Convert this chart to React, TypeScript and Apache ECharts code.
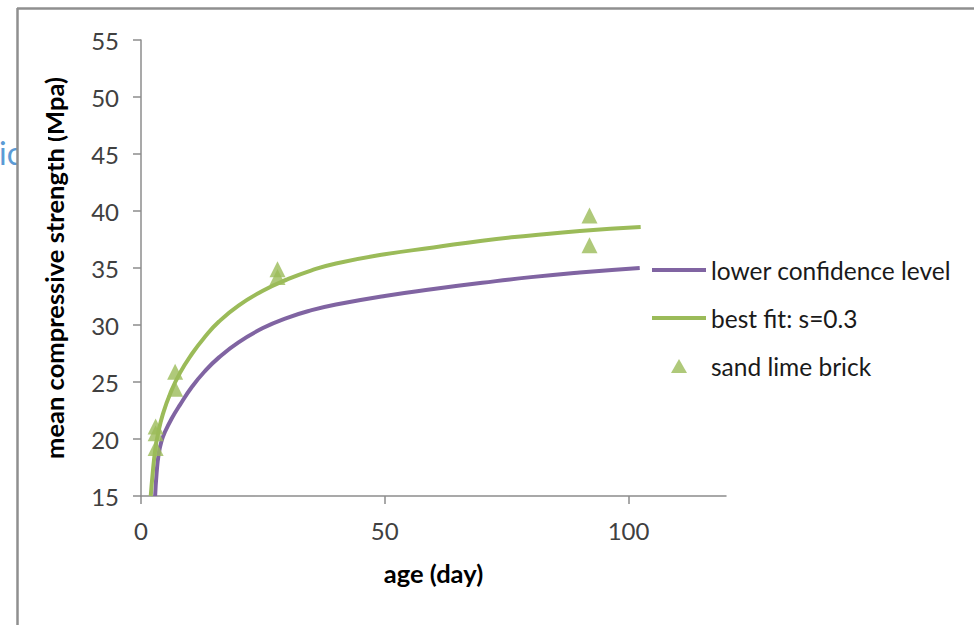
import React, { useEffect, useRef } from "react";
import * as echarts from "echarts";

// x: age (day), y: mean compressive strength (Mpa)
const lowerConfidence: [number, number][] = [
  [2.9, 15], [3.2, 17], [3.6, 18.6], [4.2, 19.8], [5, 20.7], [6.3, 21.8],
  [8, 23.0], [10.5, 24.6], [13, 25.9], [16, 27.16], [20, 28.48], [25, 29.73],
  [30, 30.63], [35, 31.3], [40, 31.8], [50, 32.55], [60, 33.15], [70, 33.7],
  [80, 34.2], [90, 34.6], [102.3, 35.0],
];
const bestFit: [number, number][] = [
  [2.0, 15], [2.4, 17], [2.9, 19], [3.5, 20.5], [4.5, 22.2], [6, 24.0],
  [8, 25.8], [10.5, 27.5], [13, 28.9], [16, 30.3], [20, 31.7], [25, 33.0],
  [30, 34.0], [35, 34.8], [40, 35.4], [50, 36.2], [60, 36.8], [70, 37.4],
  [80, 37.85], [90, 38.25], [102.5, 38.6],
];
const sandLimeBrick: [number, number][] = [
  [3, 19.2], [3, 20.5], [3, 21.1],
  [7, 24.4], [7, 25.9],
  [28, 34.2], [28, 34.9],
  [92, 37.0], [92, 39.6],
];
const xTicks = [0, 50, 100];
const legendNames = ["lower confidence level", "best fit: s=0.3", "sand lime brick"];

const FONT = "Lato, 'Open Sans', sans-serif";
const PURPLE = "#8064a2";
const GREEN = "#9bbb59";
const lineIcon = "path://M0,0 M0,5 L54,5 L54,9 L0,9 Z M54,14";
const triIcon = "path://M0,0 M19,14 L27,0 L35,14 Z M54,14";

export default function App() {
  const ref = useRef<HTMLDivElement>(null);
  useEffect(() => {
    if (!ref.current) return;
    const chart = echarts.init(ref.current, null, { renderer: "svg" });
    chart.setOption({
      animation: false,
      backgroundColor: "#ffffff",
      textStyle: { fontFamily: FONT },
      grid: { left: 141, right: 248, top: 40, bottom: 129 },
      xAxis: {
        type: "value",
        min: 0,
        max: 120,
        name: "age (day)",
        nameLocation: "middle",
        nameGap: 64,
        nameTextStyle: { fontFamily: FONT, fontSize: 25.5, fontWeight: "bold", color: "#000" },
        axisLine: { show: true, lineStyle: { color: "#8c8c8c", width: 1.5 } },
        axisTick: { show: true, length: 8, customValues: xTicks, lineStyle: { color: "#8c8c8c", width: 1.5 } },
        axisLabel: { customValues: xTicks, margin: 22, fontFamily: FONT, fontSize: 24, color: "#404040" },
        splitLine: { show: false },
      },
      yAxis: {
        type: "value",
        min: 15,
        max: 55,
        interval: 5,
        name: "mean compressive strength (Mpa)",
        nameLocation: "middle",
        nameGap: 74,
        nameTextStyle: { fontFamily: FONT, fontSize: 25.5, fontWeight: "bold", color: "#000" },
        axisLine: { show: true, lineStyle: { color: "#8c8c8c", width: 1.5 } },
        axisTick: { show: true, length: 8, lineStyle: { color: "#8c8c8c", width: 1.5 } },
        axisLabel: { margin: 22, fontFamily: FONT, fontSize: 24, color: "#404040" },
        splitLine: { show: false },
      },
      legend: {
        orient: "vertical",
        left: 652,
        top: 256,
        padding: 0,
        itemWidth: 54,
        itemHeight: 14,
        itemGap: 20,
        selectedMode: false,
        textStyle: { fontFamily: FONT, fontSize: 24.5, color: "#1a1a1a", lineHeight: 28 },
        data: [
          { name: legendNames[0], icon: lineIcon },
          { name: legendNames[1], icon: lineIcon },
          { name: legendNames[2], icon: triIcon },
        ],
      },
      series: [
        {
          name: legendNames[0],
          type: "line",
          data: lowerConfidence,
          smooth: 0.5,
          symbol: "none",
          lineStyle: { color: PURPLE, width: 4 },
          itemStyle: { color: PURPLE },
          z: 2,
        },
        {
          name: legendNames[1],
          type: "line",
          data: bestFit,
          smooth: 0.5,
          symbol: "none",
          lineStyle: { color: GREEN, width: 4 },
          itemStyle: { color: GREEN },
          z: 3,
        },
        {
          name: legendNames[2],
          type: "scatter",
          data: sandLimeBrick,
          symbol: "triangle",
          symbolSize: 16,
          itemStyle: { color: GREEN },
          z: 4,
        },
      ],
      graphic: [
        {
          type: "text",
          left: -1,
          top: 136,
          z: 10,
          style: { text: "ic", fontFamily: FONT, fontSize: 32, fill: "#5b9bd5" },
        },
        {
          type: "rect",
          shape: { x: 18, y: 120, width: 30, height: 60 },
          z: 11,
          style: { fill: "#ffffff" },
        },
        {
          type: "line",
          shape: { x1: 17, y1: 8.5, x2: 974, y2: 8.5 },
          z: 12,
          style: { stroke: "#8f8f8f", lineWidth: 2.5 },
        },
        {
          type: "line",
          shape: { x1: 17.5, y1: 8, x2: 17.5, y2: 625 },
          z: 12,
          style: { stroke: "#8f8f8f", lineWidth: 2.5 },
        },
      ],
    });
    return () => chart.dispose();
  }, []);
  return (
    <div
      ref={ref}
      style={{ position: "absolute", left: 0, top: 0, width: 974, height: 625, background: "#fff" }}
    />
  );
}
